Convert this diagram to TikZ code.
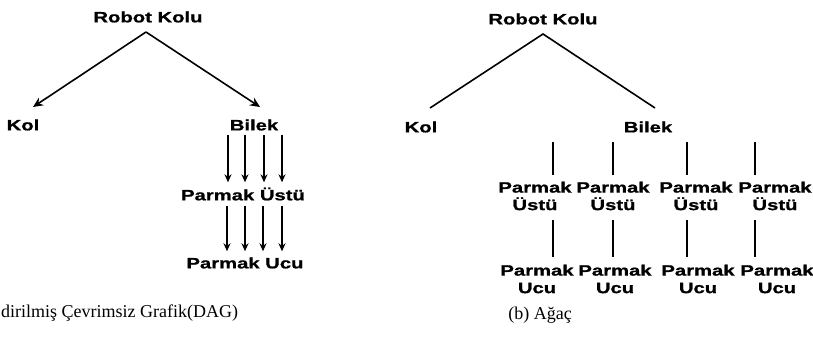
\documentclass[tikz,border=0pt]{standalone}
\usepackage{fontspec}
\setmainfont{Liberation Serif}
\newfontfamily\lab{Liberation Sans}[FakeStretch=1.35,FakeBold=1]
\usetikzlibrary{arrows.meta}
\begin{document}
\begin{tikzpicture}[x=1pt,y=-1pt,
  lbl/.style={font=\lab\bfseries\fontsize{15}{17.5}\selectfont, inner sep=0pt, align=center},
  captxt/.style={font=\fontsize{18}{20}\selectfont, inner sep=0pt},
  edge/.style={line width=1.6pt},
  arr/.style={edge,-{Stealth[length=10pt,width=9pt]}},
  darr/.style={line width=1.5pt,-{Stealth[length=8pt,width=7pt]}}
]
\useasboundingbox (0,0) rectangle (813,359);

% ---------- (a) DAG ----------
\node[lbl] (rk1) at (148,17) {Robot Kolu};
\coordinate (ap1) at (146,32);
\node[lbl] (kol1) at (23,125) {Kol};
\node[lbl] (bil1) at (254,125) {Bilek};
\node[lbl] (pu1) at (243,194) {Parmak Üstü};
\node[lbl] (pc1) at (245,263) {Parmak Ucu};
\coordinate (ek1) at (33,107);
\coordinate (eb1) at (260,107);
\draw[arr] (ap1) -- (ek1);
\draw[arr] (ap1) -- (eb1);
\foreach \dx in {-26,-9,10,28}{
  \draw[darr, shorten <=4pt, shorten >=5pt] ([xshift=\dx pt]bil1.south) -- ([xshift=\dx pt]bil1.south |- pu1.north);
}
\foreach \dx in {-16,2,20,39}{
  \draw[darr, shorten <=5pt, shorten >=6pt] ([xshift=\dx pt]pu1.south) -- ([xshift=\dx pt]pu1.south |- pc1.north);
}
\node[captxt, anchor=west] (capa) at (1,313) {dirilmiş Çevrimsiz Grafik(DAG)};

% ---------- (b) Tree ----------
\node[lbl] (rk2) at (543,19) {Robot Kolu};
\coordinate (ap2) at (543,34);
\node[lbl] (kol2) at (421,127) {Kol};
\node[lbl] (bil2) at (648,127) {Bilek};
\coordinate (ek2) at (430,108);
\coordinate (eb2) at (655,108);
\draw[edge] (ek2) -- (ap2) -- (eb2);

\foreach \i/\px/\lx in {1/535/553, 2/613/613, 3/696/687, 4/775/755}{
  \node[lbl] (u\i) at (\px,196) {Parmak\\Üstü};
  \node[lbl] (c\i) at (\px+2,279) {Parmak\\Ucu};
  \coordinate (t\i) at (\lx,142);
  \draw[edge, shorten >=7pt] (t\i) -- (t\i |- u\i.north);
  \coordinate (m\i) at (\lx,220);
  \draw[edge, shorten >=8pt] (m\i) -- (m\i |- c\i.north);
}
\node[captxt] (capb) at (540,315) {(b) Ağaç};
\end{tikzpicture}
\end{document}
